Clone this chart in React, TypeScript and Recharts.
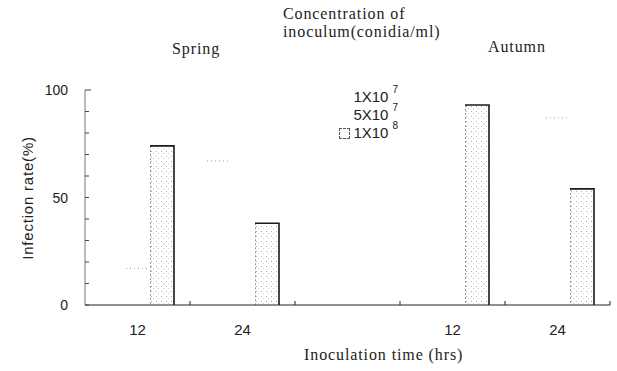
import { BarChart, Bar, XAxis, YAxis } from 'recharts';

// slots on the x axis (middle one is the empty gap between seasons)
const slots = ['S12', 'S24', 'gap', 'A12', 'A24'];
const timeLabels = ['12', '24', '', '12', '24'];

// infection rate (%) per inoculum concentration
const conc1e7 = [0, 67, 0, 0, 0];
const conc5e7 = [17, 0, 0, 0, 87];
const conc1e8 = [74, 38, 0, 93, 54];

const legendBase = ['1X10', '5X10', '1X10'];
const legendExp = ['7', '7', '8'];

const yTicks = [0, 10, 20, 30, 40, 50, 60, 70, 80, 90, 100];
const yLabelled = [0, 50, 100];

const data = slots.map((slot, i) => ({
  slot,
  c1: conc1e7[i],
  c2: conc5e7[i],
  c3: conc1e8[i],
}));

const SERIF = '"Liberation Serif", "DejaVu Serif", serif';
const SANS = '"Liberation Sans", Arial, sans-serif';
const HALF_SLOT = 52.5;

const serifText = {
  position: 'absolute' as const,
  fontFamily: SERIF,
  fontSize: 16,
  lineHeight: '18px',
  letterSpacing: 0.9,
  color: '#222',
  whiteSpace: 'nowrap' as const,
};

const FaintTop = (props: any) => {
  const { x, y, width, height } = props;
  if (!height || height <= 0) return null;
  return <line x1={x} y1={y} x2={x + width} y2={y} stroke="#a0a0a0" strokeDasharray="1 3" />;
};

const DottedBar = (props: any) => {
  const { x, y, width, height } = props;
  if (!height || height <= 0) return null;
  return (
    <g>
      <rect x={x} y={y} width={width} height={height} fill="url(#dots)" />
      <line x1={x + 0.5} y1={y} x2={x + 0.5} y2={y + height} stroke="#9a9a9a" strokeDasharray="2 2" />
      <path
        d={`M${x},${y} L${x + width},${y} L${x + width},${y + height}`}
        fill="none"
        stroke="#1a1a1a"
        strokeWidth={1.6}
      />
    </g>
  );
};

const XTick = (props: any) => {
  const { x, y, index } = props;
  return (
    <g>
      <line x1={x + HALF_SLOT} y1={y} x2={x + HALF_SLOT} y2={y - 4} stroke="#222" />
      <text x={x} y={y + 30} textAnchor="middle" fontFamily={SANS} fontSize={15} fill="#222">
        {timeLabels[index]}
      </text>
    </g>
  );
};

const YTick = (props: any) => {
  const { x, y, payload } = props;
  const v = payload.value;
  return (
    <g>
      <line x1={x} y1={y} x2={x + (v === 100 ? 6 : 4)} y2={y} stroke="#444" />
      {yLabelled.includes(v) && (
        <text x={x - 17} y={y + 5} textAnchor="end" fontFamily={SANS} fontSize={14} fill="#222">
          {v}
        </text>
      )}
    </g>
  );
};

const LegendBox = () => (
  <div
    style={{
      position: 'absolute',
      left: 318,
      top: 88,
      width: 80,
      fontFamily: SANS,
      fontSize: 15,
      color: '#222',
      lineHeight: '18px',
    }}
  >
    {legendBase.map((b, i) => (
      <div key={i} style={{ display: 'flex', justifyContent: 'flex-end', alignItems: 'center' }}>
        {i === 2 && (
          <span
            style={{
              display: 'inline-block',
              width: 9,
              height: 9,
              border: '1px dashed #555',
              marginRight: 3,
            }}
          />
        )}
        <span>{b}</span>
        <span style={{ fontSize: 10, position: 'relative', top: -7, marginLeft: 4 }}>{legendExp[i]}</span>
      </div>
    ))}
  </div>
);

export default function App() {
  return (
    <div style={{ position: 'absolute', left: 0, top: 0, width: 617, height: 371, background: '#fff' }}>
      <BarChart
        width={617}
        height={371}
        data={data}
        barSize={24}
        barGap={0}
        margin={{ top: 90, right: 7, bottom: 36, left: 0 }}
      >
        <defs>
          <pattern id="dots" width="5" height="5" patternUnits="userSpaceOnUse">
            <rect width="5" height="5" fill="#fff" />
            <rect x="1" y="1" width="1" height="1" fill="#b0b0b0" />
            <rect x="3" y="3" width="1" height="1" fill="#cfcfcf" />
          </pattern>
        </defs>
        <XAxis
          dataKey="slot"
          height={30}
          stroke="#222"
          tickSize={0}
          tickMargin={0}
          tickLine={false}
          tick={<XTick />}
          interval={0}
        />
        <YAxis
          domain={[0, 100]}
          ticks={yTicks}
          width={85}
          stroke="#777"
          tickSize={0}
          tickMargin={0}
          tickLine={false}
          tick={<YTick />}
          interval={0}
        />
        <Bar dataKey="c1" name="1X10^7" shape={<FaintTop />} isAnimationActive={false} />
        <Bar dataKey="c2" name="5X10^7" shape={<FaintTop />} isAnimationActive={false} />
        <Bar dataKey="c3" name="1X10^8" shape={<DottedBar />} isAnimationActive={false} />
      </BarChart>

      <LegendBox />

      <div style={{ ...serifText, left: 283, top: 5 }}>
        Concentration of
        <br />
        inoculum(conidia/ml)
      </div>
      <div style={{ ...serifText, left: 172, top: 40 }}>Spring</div>
      <div style={{ ...serifText, left: 488, top: 38 }}>Autumn</div>
      <div style={{ ...serifText, left: 304, top: 346 }}>Inoculation time (hrs)</div>
      <div
        style={{
          position: 'absolute',
          left: 27,
          top: 198,
          transform: 'translate(-50%, -50%) rotate(-90deg)',
          whiteSpace: 'nowrap',
          fontFamily: SANS,
          fontSize: 15,
          letterSpacing: 0.8,
          color: '#222',
        }}
      >
        Infection rate(%)
      </div>
    </div>
  );
}
